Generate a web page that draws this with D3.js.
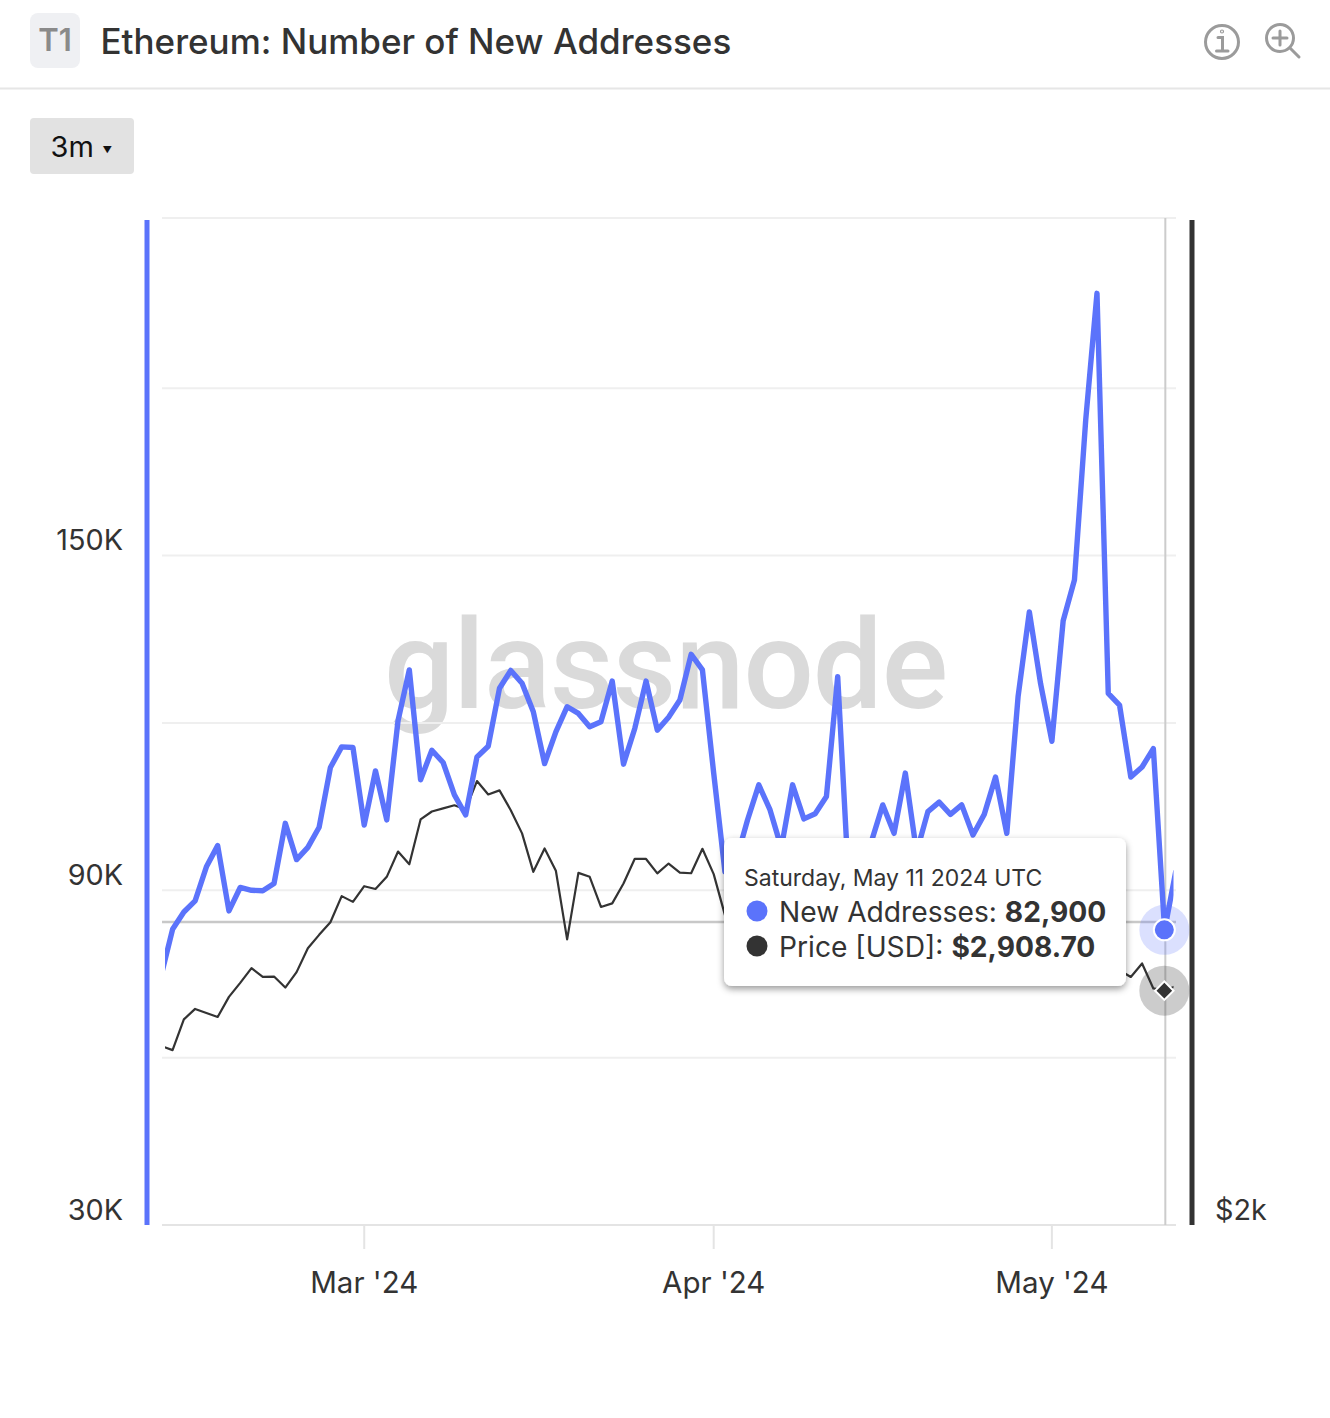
<!DOCTYPE html>
<html>
<head>
<meta charset="utf-8">
<style>
  body { margin: 0; background: #fff; font-family: Inter, "Noto Sans", sans-serif; }
  svg { display: block; }
  text { font-family: Inter, "Noto Sans", sans-serif; }
  .axis path { display: none; }
  .axis text { font-size: 29.5px; fill: #333; }
</style>
<script src="https://cdn.jsdelivr.net/npm/d3@7"></script>
</head>
<body>
<div id="chart"></div>
<script>
// Values, one per day from Feb 12 to May 12 2024
var startDay = "2024-02-12";
var endDay = "2024-05-12";

var newAddresses = [
    74800, 83000, 86100, 88100, 94200, 98000, 86300, 90500, 90000, 89900,
    91200, 102000, 95500, 97700, 101300, 112000, 115700, 115600, 101700, 111400,
    102600, 120400, 129500, 109800, 115100, 112900, 107100, 103500, 113900, 115800,
    126200, 129400, 127100, 122000, 112700, 118400, 122900, 121700, 119300, 120200,
    127500, 112600, 119000, 127500, 118700, 121000, 124100, 132300, 129500, 111000,
    93300, 95400, 102600, 108900, 104400, 97600, 108900, 102800, 103700, 106800,
    128300, 90400, 91800, 98800, 105300, 100200, 111000, 96800, 104100, 105800,
    103600, 105300, 99900, 103600, 110300, 100200, 124700, 139900, 127000, 116700,
    138300, 145600, 174300, 197000, 125300, 123200, 110300, 112100, 115400, 82900,
    93500
];

var priceUsd = [
    2662, 2645, 2778, 2825, 2807, 2789, 2880, 2945, 3015, 2973,
    2975, 2923, 2996, 3113, 3180, 3245, 3383, 3352, 3437, 3422,
    3489, 3633, 3560, 3824, 3873, 3892, 3912, 3886, 4066, 3980,
    4006, 3881, 3740, 3517, 3651, 3523, 3157, 3511, 3489, 3325,
    3344, 3452, 3591, 3590, 3508, 3564, 3513, 3509, 3649, 3504,
    3282, 3310, 3330, 3320, 3350, 3455, 3660, 3500, 3545, 3500,
    3240, 3010, 3150, 3100, 3085, 2985, 3065, 3055, 3155, 3145,
    3200, 3215, 3140, 3155, 3130, 3130, 3120, 3210, 3015, 2970,
    2990, 3100, 3115, 3135, 3065, 3005, 2973, 3038, 2919, 2908.7,
    2930
];

var gridValues = [30000, 60000, 90000, 120000, 150000, 180000];
var leftLabels = { 30000: "30K", 90000: "90K", 150000: "150K" };
var monthTicks = ["2024-03-01", "2024-04-01", "2024-05-01"];

var hoverDay = "2024-05-11";
var hoverAddresses = 82900;
var hoverPrice = 2908.7;
var tooltipDate = "Saturday, May 11 2024 UTC";

var blue = "#5b73fb";
var dark = "#333333";

var svgWidth = 1330;
var svgHeight = 1418;

// Plot area
var margin = { top: 218, right: 154, bottom: 193, left: 161.3 };
var chartRight = svgWidth - margin.right;
var chartBottom = svgHeight - margin.bottom;

var parseDay = d3.utcParse("%Y-%m-%d");
var days = d3.utcDay.range(parseDay(startDay), d3.utcDay.offset(parseDay(endDay), 1));

var xScale = d3.scaleUtc()
    .domain([parseDay(startDay), parseDay(endDay)])
    .range([margin.left, chartRight - 0.1]);

var yLeft = d3.scaleLinear()
    .domain([30000, 210500])
    .range([chartBottom, margin.top]);

var yRight = d3.scaleLog()
    .domain([2000, 10000])
    .range([chartBottom, margin.top]);

var svg = d3.select("#chart")
    .append("svg")
    .attr("width", svgWidth)
    .attr("height", svgHeight);

var defs = svg.append("defs");

defs.append("clipPath")
    .attr("id", "plotClip")
    .append("rect")
    .attr("x", 165)
    .attr("y", margin.top - 10)
    .attr("width", 1008.5)
    .attr("height", chartBottom - margin.top + 10);

var shadow = defs.append("filter")
    .attr("id", "tipShadow")
    .attr("x", "-10%").attr("y", "-10%")
    .attr("width", "120%").attr("height", "125%");
shadow.append("feDropShadow")
    .attr("dx", 0).attr("dy", 3)
    .attr("stdDeviation", 3.5)
    .attr("flood-color", "#000")
    .attr("flood-opacity", 0.4);

// Header
svg.append("rect")
    .attr("x", 30).attr("y", 13)
    .attr("width", 50).attr("height", 55)
    .attr("rx", 8)
    .attr("fill", "#eff0f3");
svg.append("text")
    .attr("x", 55).attr("y", 51)
    .attr("text-anchor", "middle")
    .attr("font-size", 31)
    .attr("font-weight", 600)
    .attr("fill", "#8a8a8a")
    .text("T1");
svg.append("text")
    .attr("x", 100.5).attr("y", 54)
    .attr("font-size", 35)
    .attr("font-weight", 500)
    .attr("fill", dark)
    .text("Ethereum: Number of New Addresses");
svg.append("line")
    .attr("x1", 0).attr("x2", svgWidth)
    .attr("y1", 88.5).attr("y2", 88.5)
    .attr("stroke", "#e6e6e6")
    .attr("stroke-width", 2);

// Info and zoom icons
var icons = svg.append("g")
    .attr("fill", "none")
    .attr("stroke", "#9b9b9b")
    .attr("stroke-width", 3)
    .attr("stroke-linecap", "round");
icons.append("circle").attr("cx", 1222).attr("cy", 42).attr("r", 16.5);
icons.append("path").attr("d", "M1218 37.5h4.5v13M1216.5 51h11.5");
icons.append("circle").attr("cx", 1222).attr("cy", 31.5).attr("r", 0.6);
icons.append("circle").attr("cx", 1280).attr("cy", 38).attr("r", 13.5);
icons.append("path").attr("d", "M1273 38h14M1280 31v14M1290 48l9 9");

// Range selector
svg.append("rect")
    .attr("x", 30).attr("y", 118)
    .attr("width", 104).attr("height", 56)
    .attr("rx", 4)
    .attr("fill", "#e2e2e2");
svg.append("text")
    .attr("x", 50.5).attr("y", 157)
    .attr("font-size", 29)
    .attr("fill", "#111")
    .text("3m");
svg.append("text")
    .attr("x", 102.5).attr("y", 153)
    .attr("font-size", 9.5)
    .attr("fill", "#111")
    .text("▼");

// Watermark
svg.append("text")
    .attr("x", 384).attr("y", 708)
    .attr("font-size", 124)
    .attr("font-weight", 500)
    .attr("letter-spacing", -1)
    .attr("fill", "#dadada")
    .style("font-family", "Roboto")
    .text("glassnode");

// Grid
svg.append("g")
    .attr("stroke", "#efefef")
    .attr("stroke-width", 2)
    .selectAll("line")
    .data(gridValues.slice(1))
    .enter()
    .append("line")
    .attr("x1", 162).attr("x2", 1176)
    .attr("y1", d => yLeft(d))
    .attr("y2", d => yLeft(d));
svg.append("line")
    .attr("x1", 162).attr("x2", 1176)
    .attr("y1", margin.top).attr("y2", margin.top)
    .attr("stroke", "#efefef")
    .attr("stroke-width", 2);

// Axis bars
svg.append("rect")
    .attr("x", 144.5).attr("y", 220)
    .attr("width", 5).attr("height", chartBottom - 220)
    .attr("fill", blue);
svg.append("rect")
    .attr("x", 1189.5).attr("y", 220)
    .attr("width", 5).attr("height", chartBottom - 220)
    .attr("fill", dark);

// Axes
var bottomAxis = d3.axisBottom(xScale)
    .tickValues(monthTicks.map(parseDay))
    .tickFormat(d3.utcFormat("%b '%y"))
    .tickSize(24)
    .tickPadding(23)
    .offset(0);

var leftAxis = d3.axisLeft(yLeft)
    .tickValues(Object.keys(leftLabels).map(Number))
    .tickFormat(d => leftLabels[d])
    .tickSize(0)
    .tickPadding(22);

var rightAxis = d3.axisRight(yRight)
    .tickValues([2000])
    .tickFormat(d => "$" + d / 1000 + "k")
    .tickSize(0)
    .tickPadding(21);

svg.append("line")
    .attr("x1", 162).attr("x2", 1176)
    .attr("y1", chartBottom).attr("y2", chartBottom)
    .attr("stroke", "#e4e4e4")
    .attr("stroke-width", 2);

var xAxisGroup = svg.append("g")
    .classed("axis", true)
    .attr("transform", `translate(0, ${chartBottom})`)
    .call(bottomAxis);
xAxisGroup.selectAll("line").attr("stroke", "#e4e4e4").attr("stroke-width", 2);

var leftGroup = svg.append("g")
    .classed("axis", true)
    .attr("transform", "translate(145, 0)")
    .call(leftAxis);
leftGroup.selectAll("text").attr("dy", "-0.2em").style("font-size", "28.8px");

var rightGroup = svg.append("g")
    .classed("axis", true)
    .attr("transform", "translate(1194, 0)")
    .call(rightAxis);
rightGroup.selectAll("text").attr("dy", "-0.2em").style("font-size", "28.8px");

// Crosshair
var hoverX = xScale(parseDay(hoverDay));
svg.append("line")
    .attr("x1", hoverX + 0.7).attr("x2", hoverX + 0.7)
    .attr("y1", margin.top).attr("y2", chartBottom)
    .attr("stroke", "#cccccc")
    .attr("stroke-width", 2);
svg.append("line")
    .attr("x1", 162).attr("x2", 1176)
    .attr("y1", 922).attr("y2", 922)
    .attr("stroke", "#c8c8c8")
    .attr("stroke-width", 2.4);

// Series
var lines = svg.append("g").attr("clip-path", "url(#plotClip)");

var priceLine = d3.line()
    .x((d, i) => xScale(days[i]))
    .y(d => yRight(d));

var addressLine = d3.line()
    .x((d, i) => xScale(days[i]))
    .y(d => yLeft(d));

lines.append("path")
    .datum(priceUsd)
    .attr("d", priceLine)
    .attr("fill", "none")
    .attr("stroke", dark)
    .attr("stroke-width", 2.2)
    .attr("stroke-linejoin", "round");

lines.append("path")
    .datum(newAddresses)
    .attr("d", addressLine)
    .attr("fill", "none")
    .attr("stroke", blue)
    .attr("stroke-width", 5.4)
    .attr("stroke-linejoin", "round");

// Hover markers
var blueY = yLeft(hoverAddresses);
var darkY = yRight(hoverPrice);

svg.append("circle")
    .attr("cx", hoverX - 0.3).attr("cy", blueY).attr("r", 25)
    .attr("fill", blue).attr("fill-opacity", 0.22);
svg.append("circle")
    .attr("cx", hoverX - 0.3).attr("cy", blueY).attr("r", 10.5)
    .attr("fill", blue)
    .attr("stroke", "#fff").attr("stroke-width", 2);

svg.append("circle")
    .attr("cx", hoverX - 0.3).attr("cy", darkY).attr("r", 25)
    .attr("fill", dark).attr("fill-opacity", 0.25);
svg.append("path")
    .attr("d", d3.symbol().type(d3.symbolSquare).size(170)())
    .attr("transform", `translate(${hoverX - 0.3}, ${darkY}) rotate(45)`)
    .attr("fill", dark)
    .attr("stroke", "#fff").attr("stroke-width", 2);

// Tooltip
var tooltip = svg.append("g");
tooltip.append("rect")
    .attr("x", 724).attr("y", 838)
    .attr("width", 402).attr("height", 148)
    .attr("rx", 8)
    .attr("fill", "#fff")
    .attr("filter", "url(#tipShadow)");
tooltip.append("text")
    .attr("x", 744).attr("y", 886)
    .attr("font-size", 23)
    .attr("fill", dark)
    .text(tooltipDate);

var tooltipRows = [
    { y: 911, color: blue, label: "New Addresses: ", value: d3.format(",")(hoverAddresses) },
    { y: 946, color: dark, label: "Price [USD]: ", value: d3.format("$,.2f")(hoverPrice) }
];

tooltipRows.forEach(function (row) {
    tooltip.append("circle")
        .attr("cx", 757).attr("cy", row.y).attr("r", 10.5)
        .attr("fill", row.color);
    var rowText = tooltip.append("text")
        .attr("x", 779).attr("y", row.y + 10.5)
        .attr("font-size", 28.2)
        .attr("fill", dark)
        .style("white-space", "pre");
    rowText.append("tspan").text(row.label);
    rowText.append("tspan").attr("font-weight", 700).text(row.value);
});
</script>
</body>
</html>
